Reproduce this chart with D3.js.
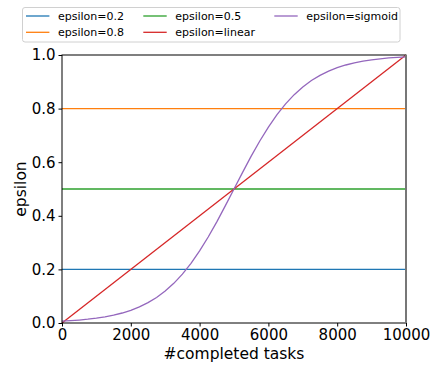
<!DOCTYPE html>
<html><head><meta charset="utf-8">
<script src="https://cdn.jsdelivr.net/npm/d3@7"></script>
<style>body{margin:0;background:#fff;}svg{display:block;font-family:"DejaVu Sans",sans-serif;}</style>
</head><body>
<svg id="c" width="433" height="367"></svg>
<script>
const xDomain = [0, 10000];
const yDomain = [0, 1];
const xTicks = [0, 2000, 4000, 6000, 8000, 10000];
const yTicks = [0.0, 0.2, 0.4, 0.6, 0.8, 1.0];
const seriesNames = ["epsilon=0.2", "epsilon=0.8", "epsilon=0.5", "epsilon=linear", "epsilon=sigmoid"];
const seriesColors = ["#1f77b4", "#ff7f0e", "#2ca02c", "#d62728", "#9467bd"];
const constX = [0, 10000];
const eps02 = [0.2, 0.2];
const eps08 = [0.8, 0.8];
const eps05 = [0.5, 0.5];
const linearX = [0, 10000];
const linearY = [0.0, 1.0];
const sigmoidX = [0,250,500,750,1000,1250,1500,1750,2000,2250,2500,2750,3000,3250,3500,3750,4000,4250,4500,4750,5000,5250,5500,5750,6000,6250,6500,6750,7000,7250,7500,7750,8000,8250,8500,8750,9000,9250,9500,9750,10000];
const sigmoidY = [0.0067,0.0086,0.0110,0.0141,0.0180,0.0230,0.0293,0.0373,0.0474,0.0601,0.0759,0.0954,0.1192,0.1480,0.1824,0.2227,0.2689,0.3208,0.3775,0.4378,0.5,0.5622,0.6225,0.6792,0.7311,0.7773,0.8176,0.8520,0.8808,0.9047,0.9241,0.9399,0.9526,0.9627,0.9707,0.9770,0.9820,0.9859,0.9890,0.9914,0.9933];

const L = 62, R = 406, T = 55, B = 323;
const svg = d3.select("#c");
const x = d3.scaleLinear().domain(xDomain).range([L, R]);
const y = d3.scaleLinear().domain(yDomain).range([B, T]);

const series = [
  {xs: constX, ys: eps02},
  {xs: constX, ys: eps08},
  {xs: constX, ys: eps05},
  {xs: linearX, ys: linearY},
  {xs: sigmoidX, ys: sigmoidY}
];
const line = d3.line().x(d => x(d[0])).y(d => y(d[1]));
svg.append("g").selectAll("path").data(series).join("path")
  .attr("d", s => line(s.xs.map((v, i) => [v, s.ys[i]])))
  .attr("fill", "none")
  .attr("stroke", (s, i) => seriesColors[i])
  .attr("stroke-width", 1.3);

// axes
const xa = svg.append("g").attr("transform", `translate(0,${B})`)
  .call(d3.axisBottom(x).tickValues(xTicks).tickFormat(d3.format("d")).tickSizeOuter(0).tickSize(3.5).tickPadding(3));
const ya = svg.append("g").attr("transform", `translate(${L},0)`)
  .call(d3.axisLeft(y).tickValues(yTicks).tickFormat(d3.format(".1f")).tickSizeOuter(0).tickSize(3.5).tickPadding(3));
[xa, ya].forEach(a => {
  a.select(".domain").remove();
  a.selectAll("text").attr("font-size", 15).attr("fill", "#000").attr("font-family", "DejaVu Sans");
  a.selectAll("line").attr("stroke", "#000").attr("stroke-width", 1);
});
xa.selectAll("text").attr("dy", "0.71em");

// spines
svg.append("rect").attr("x", L).attr("y", T).attr("width", R - L).attr("height", B - T)
  .attr("fill", "none").attr("stroke", "#000").attr("stroke-width", 1);
svg.append("line").attr("x1", R).attr("x2", R).attr("y1", T).attr("y2", B)
  .attr("stroke", "#777").attr("stroke-width", 2);

// axis labels
svg.append("text").attr("x", (L + R) / 2).attr("y", 359).attr("text-anchor", "middle")
  .attr("font-size", 15.5).text("#completed tasks");
svg.append("text").attr("transform", `translate(26,${(T + B) / 2}) rotate(-90)`)
  .attr("text-anchor", "middle").attr("font-size", 15.5).text("epsilon");

// legend
const lg = svg.append("g");
lg.append("rect").attr("x", 22.5).attr("y", 7.5).attr("width", 377.5).attr("height", 34.5)
  .attr("rx", 2.5).attr("fill", "#fff").attr("stroke", "#d0d0d0").attr("stroke-width", 1);
const colX = [26, 143.3, 274.3];
const rowY = [16, 32.3];
const order = [[0,0],[1,0],[2,1],[3,1],[4,2]];
seriesNames.forEach((name, i) => {
  const col = Math.floor(i / 2), row = i % 2;
  const cx = colX[col], cy = rowY[row];
  lg.append("line").attr("x1", cx).attr("x2", cx + 23.4).attr("y1", cy).attr("y2", cy)
    .attr("stroke", seriesColors[i]).attr("stroke-width", 1.3);
  lg.append("text").attr("x", cx + 32).attr("y", cy).attr("dy", "0.35em")
    .attr("font-size", 11).text(name);
});
</script>
</body></html>
